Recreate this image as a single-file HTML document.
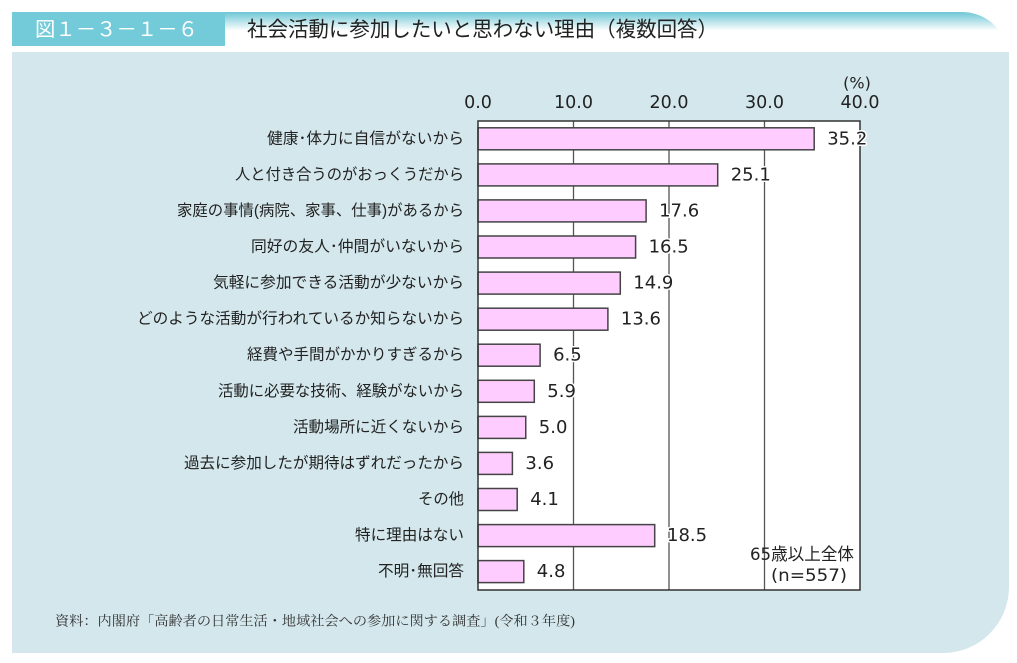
<!DOCTYPE html>
<html>
<head>
<meta charset="utf-8">
<style>
  html,body{margin:0;padding:0;background:#ffffff;}
  svg{display:block;}
  .jp{font-family:"Liberation Sans","Noto Sans CJK JP",sans-serif;}
  .num{font-family:"DejaVu Sans","Liberation Sans",sans-serif;}
  .ser{font-family:"Liberation Serif","Noto Serif CJK SC",serif;}
</style>
</head>
<body>
<svg width="1017" height="663" viewBox="0 0 1017 663" xmlns="http://www.w3.org/2000/svg">
  <defs>
    <linearGradient id="hg" x1="0" y1="0" x2="0" y2="1">
      <stop offset="0" stop-color="#6ec6d5"/>
      <stop offset="0.55" stop-color="#ffffff"/>
      <stop offset="1" stop-color="#ffffff"/>
    </linearGradient>
  </defs>

  <!-- header -->
  <path d="M225 12 H960 C984 12 998 24 1008 46 H225 Z" fill="url(#hg)"/>
  <rect x="12" y="12" width="213" height="34" fill="#73cbd9"/>
  <text class="jp" x="35" y="30" dominant-baseline="central" font-size="20" fill="#ffffff" textLength="163" lengthAdjust="spacingAndGlyphs">図１－３－１－６</text>
  <text class="jp" x="247" y="30" dominant-baseline="central" font-size="21" fill="#222222" textLength="471" lengthAdjust="spacingAndGlyphs">社会活動に参加したいと思わない理由（複数回答）</text>

  <!-- panel -->
  <path d="M12 52 H1009 V587 A66 66 0 0 1 943 653 H12 Z" fill="#d3e7ec"/>

  <!-- axis labels -->
  <text class="num" x="857" y="83" text-anchor="middle" dominant-baseline="central" font-size="16" fill="#222">(%)</text>
  <g class="num" font-size="17.5" fill="#222" text-anchor="middle">
    <text x="478" y="103" dominant-baseline="central">0.0</text>
    <text x="573.5" y="103" dominant-baseline="central">10.0</text>
    <text x="669" y="103" dominant-baseline="central">20.0</text>
    <text x="764.5" y="103" dominant-baseline="central">30.0</text>
    <text x="860" y="103" dominant-baseline="central">40.0</text>
  </g>

  <!-- plot -->
  <rect x="478" y="121" width="382" height="469" fill="#ffffff"/>
  <g stroke="#555" stroke-width="1.3">
    <line x1="573.5" y1="121" x2="573.5" y2="590"/>
    <line x1="669" y1="121" x2="669" y2="590"/>
    <line x1="764.5" y1="121" x2="764.5" y2="590"/>
  </g>

  <!-- bars -->
  <g fill="#ffccff" stroke="#444" stroke-width="1.5">
    <rect x="478" y="127.8" width="336.2" height="22"/>
    <rect x="478" y="163.9" width="239.7" height="22"/>
    <rect x="478" y="199.9" width="168.1" height="22"/>
    <rect x="478" y="236.0" width="157.6" height="22"/>
    <rect x="478" y="272.1" width="142.3" height="22"/>
    <rect x="478" y="308.2" width="129.9" height="22"/>
    <rect x="478" y="344.2" width="62.1" height="22"/>
    <rect x="478" y="380.3" width="56.3" height="22"/>
    <rect x="478" y="416.4" width="47.75" height="22"/>
    <rect x="478" y="452.4" width="34.4" height="22"/>
    <rect x="478" y="488.5" width="39.2" height="22"/>
    <rect x="478" y="524.6" width="176.7" height="22"/>
    <rect x="478" y="560.6" width="45.8" height="22"/>
  </g>

  <rect x="478" y="121" width="382" height="469" fill="none" stroke="#333" stroke-width="1.5"/>

  <!-- value labels -->
  <g class="num" font-size="18" fill="#222" stroke="#ffffff" stroke-width="3" paint-order="stroke" stroke-linejoin="round">
    <text x="827.2" y="138.8" dominant-baseline="central">35.2</text>
    <text x="730.7" y="174.9" dominant-baseline="central">25.1</text>
    <text x="659.1" y="210.9" dominant-baseline="central">17.6</text>
    <text x="648.6" y="247.0" dominant-baseline="central">16.5</text>
    <text x="633.3" y="283.1" dominant-baseline="central">14.9</text>
    <text x="620.9" y="319.2" dominant-baseline="central">13.6</text>
    <text x="553.1" y="355.2" dominant-baseline="central">6.5</text>
    <text x="547.3" y="391.3" dominant-baseline="central">5.9</text>
    <text x="538.8" y="427.4" dominant-baseline="central">5.0</text>
    <text x="525.4" y="463.4" dominant-baseline="central">3.6</text>
    <text x="530.2" y="499.5" dominant-baseline="central">4.1</text>
    <text x="667.0" y="535.6" dominant-baseline="central">18.5</text>
    <text x="536.8" y="571.6" dominant-baseline="central">4.8</text>
  </g>

  <!-- category labels -->
  <g class="jp" font-size="15.5" fill="#222" text-anchor="end">
    <text x="464" y="138.8" dominant-baseline="central" textLength="197" lengthAdjust="spacingAndGlyphs">健康･体力に自信がないから</text>
    <text x="464" y="174.9" dominant-baseline="central" textLength="229" lengthAdjust="spacingAndGlyphs">人と付き合うのがおっくうだから</text>
    <text x="464" y="210.9" dominant-baseline="central" textLength="287" lengthAdjust="spacingAndGlyphs">家庭の事情(病院、家事、仕事)があるから</text>
    <text x="464" y="247.0" dominant-baseline="central" textLength="213" lengthAdjust="spacingAndGlyphs">同好の友人･仲間がいないから</text>
    <text x="464" y="283.1" dominant-baseline="central" textLength="251" lengthAdjust="spacingAndGlyphs">気軽に参加できる活動が少ないから</text>
    <text x="464" y="319.2" dominant-baseline="central" textLength="327" lengthAdjust="spacingAndGlyphs">どのような活動が行われているか知らないから</text>
    <text x="464" y="355.2" dominant-baseline="central" textLength="217" lengthAdjust="spacingAndGlyphs">経費や手間がかかりすぎるから</text>
    <text x="464" y="391.3" dominant-baseline="central" textLength="246" lengthAdjust="spacingAndGlyphs">活動に必要な技術、経験がないから</text>
    <text x="464" y="427.4" dominant-baseline="central" textLength="171" lengthAdjust="spacingAndGlyphs">活動場所に近くないから</text>
    <text x="464" y="463.4" dominant-baseline="central" textLength="280" lengthAdjust="spacingAndGlyphs">過去に参加したが期待はずれだったから</text>
    <text x="464" y="499.5" dominant-baseline="central" textLength="46" lengthAdjust="spacingAndGlyphs">その他</text>
    <text x="464" y="535.6" dominant-baseline="central" textLength="109" lengthAdjust="spacingAndGlyphs">特に理由はない</text>
    <text x="464" y="571.6" dominant-baseline="central" textLength="86" lengthAdjust="spacingAndGlyphs">不明･無回答</text>
  </g>

  <!-- n label -->
  <text x="802" y="555" text-anchor="middle" dominant-baseline="central" font-size="17" fill="#222" font-family="DejaVu Sans, Noto Sans CJK JP, sans-serif" textLength="104" lengthAdjust="spacingAndGlyphs">65歳以上全体</text>
  <text class="num" x="809" y="576" text-anchor="middle" dominant-baseline="central" font-size="17" fill="#222" textLength="76" lengthAdjust="spacingAndGlyphs">(n=557)</text>

  <!-- source -->
  <text class="ser" x="55" y="621" dominant-baseline="central" font-size="13.5" fill="#333" textLength="520" lengthAdjust="spacingAndGlyphs">資料：内閣府「高齢者の日常生活・地域社会への参加に関する調査」(令和３年度)</text>
</svg>
</body>
</html>
